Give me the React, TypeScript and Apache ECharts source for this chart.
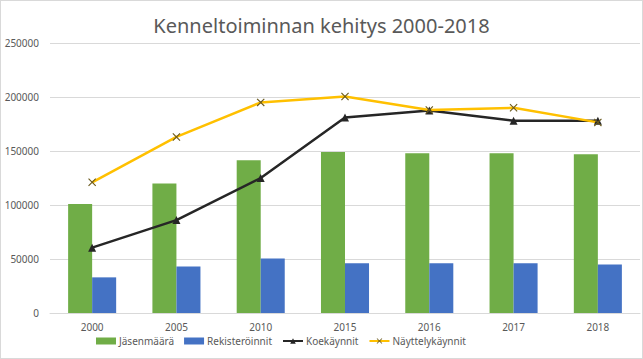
import React, { useEffect, useRef } from "react";
import * as echarts from "echarts";

const categories = ["2000", "2005", "2010", "2015", "2016", "2017", "2018"];
const jasenmaara = [101000, 120000, 141500, 149000, 148000, 148000, 147000];
const rekisteroinnit = [33000, 43000, 50500, 46000, 46000, 46000, 45000];
const koekaynnit = [60500, 86000, 125000, 181000, 187500, 178000, 178000];
const nayttelykaynnit = [121000, 163000, 195000, 200500, 188000, 190000, 176500];

const FONT = "'Noto Sans', 'Open Sans', sans-serif";
const XPATH = "path://M0,1L1,0L5,4L9,0L10,1L6,5L10,9L9,10L5,6L1,10L0,9L4,5Z";

export default function App() {
  const ref = useRef<HTMLDivElement>(null);
  useEffect(() => {
    const chart = echarts.init(ref.current!, undefined, { renderer: "svg" });
    chart.setOption({
      animation: false,
      title: {
        text: "Kenneltoiminnan kehitys 2000-2018",
        left: "center",
        top: 9,
        textStyle: { fontFamily: FONT, fontSize: 20, fontWeight: "normal", color: "#595959" },
      },
      grid: { left: 49, right: 2, top: 42, bottom: 45, outerBoundsMode: "none", containLabel: false },
      legend: {
        bottom: 7,
        left: 90,
        itemGap: 10,
        itemWidth: 20,
        itemHeight: 7,
        textStyle: { fontFamily: FONT, fontSize: 10, color: "#595959", padding: [0, 0, 0, -2] },
        data: [
          { name: "Jäsenmäärä", icon: "rect" },
          { name: "Rekisteröinnit", icon: "rect" },
          { name: "Koekäynnit" },
          { name: "Näyttelykäynnit" },
        ],
      },
      xAxis: {
        type: "category",
        data: categories,
        axisLine: { lineStyle: { color: "#d9d9d9" } },
        axisTick: { show: false },
        axisLabel: { fontFamily: FONT, fontSize: 10, color: "#595959", margin: 9 },
      },
      yAxis: {
        type: "value",
        min: 0,
        max: 250000,
        interval: 50000,
        axisLine: { show: false },
        axisTick: { show: false },
        splitLine: { lineStyle: { color: "#d9d9d9" } },
        axisLabel: {
          fontFamily: FONT,
          fontSize: 10,
          color: "#595959",
          margin: 11,
          formatter: (v: number) => String(v),
        },
      },
      series: [
        {
          name: "Jäsenmäärä",
          type: "bar",
          data: jasenmaara,
          barGap: "0%",
          barCategoryGap: "43%",
          itemStyle: { color: "#70ad47" },
        },
        {
          name: "Rekisteröinnit",
          type: "bar",
          data: rekisteroinnit,
          itemStyle: { color: "#4472c4" },
        },
        {
          name: "Koekäynnit",
          type: "line",
          data: koekaynnit,
          symbol: "triangle",
          symbolSize: 8,
          lineStyle: { color: "#262626", width: 2.5 },
          itemStyle: { color: "#262626" },
        },
        {
          name: "Näyttelykäynnit",
          type: "line",
          data: nayttelykaynnit,
          symbol: XPATH,
          symbolSize: 8,
          lineStyle: { color: "#ffc000", width: 2.5 },
          itemStyle: { color: "#6b5a1e" },
        },
      ],
    });
    return () => chart.dispose();
  }, []);
  return (
    <div
      ref={ref}
      style={{ width: 641, height: 357, border: "1px solid #d9d9d9", background: "#fff", position: "absolute", left: 0, top: 0 }}
    />
  );
}
